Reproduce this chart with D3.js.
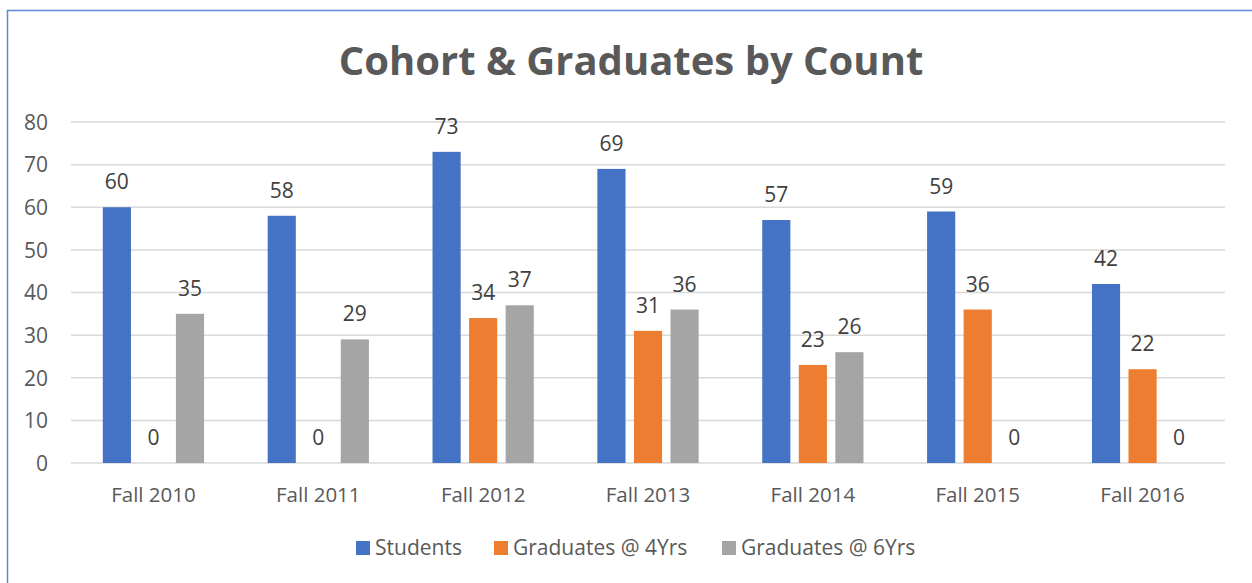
<!DOCTYPE html>
<html>
<head>
<meta charset="utf-8">
<script src="https://cdn.jsdelivr.net/npm/d3@7"></script>
<style>
  body { margin: 0; background: #fff; }
  text { font-family: "Open Sans", "Noto Sans", sans-serif; }
</style>
</head>
<body>
<div id="chart"></div>
<script>
// chart data
const categories = ["Fall 2010", "Fall 2011", "Fall 2012", "Fall 2013", "Fall 2014", "Fall 2015", "Fall 2016"];
const seriesNames = ["Students", "Graduates @ 4Yrs", "Graduates @ 6Yrs"];
const students = [60, 58, 73, 69, 57, 59, 42];
const grads4 = [0, 0, 34, 31, 23, 36, 22];
const grads6 = [35, 29, 37, 36, 26, 0, 0];
const yTicks = [0, 10, 20, 30, 40, 50, 60, 70, 80];
const colours = ["#4472C4", "#ED7D31", "#A5A5A5"];

const width = 1252, height = 583;
const margin = {left: 71, right: 27, top: 122, bottom: 120};

const svg = d3.select("#chart")
  .append("svg")
  .attr("width", width)
  .attr("height", height);

// outer chart frame (runs past the right and bottom edge of the picture)
svg.append("rect")
  .attr("x", 7.5).attr("y", 10.5)
  .attr("width", width + 20).attr("height", height + 20)
  .attr("fill", "none")
  .attr("stroke", "#5B8BD6")
  .attr("stroke-width", 1.5);

svg.append("text")
  .attr("x", 631).attr("y", 75)
  .attr("text-anchor", "middle")
  .style("font-size", "40px")
  .style("font-weight", "bold")
  .attr("fill", "#595959")
  .text("Cohort & Graduates by Count");

const x = d3.scaleBand()
  .domain(categories)
  .range([margin.left, width - margin.right])
  .paddingInner(0).paddingOuter(0);

const y = d3.scaleLinear()
  .domain([0, 80])
  .range([height - margin.bottom, margin.top]);

// bars inside each category: slot width 36.5, bar width 28
const x1 = d3.scaleBand()
  .domain(seriesNames)
  .range([0, x.bandwidth()])
  .paddingOuter(0.87)
  .paddingInner(0.23);

// gridlines
svg.append("g")
  .selectAll("line")
  .data(yTicks)
  .enter()
  .append("line")
  .attr("x1", margin.left).attr("x2", width - margin.right)
  .attr("y1", d => y(d)).attr("y2", d => y(d))
  .attr("stroke", "#D9D9D9")
  .attr("stroke-width", 1.5);

// y axis labels
const yAxis = d3.axisLeft(y).tickValues(yTicks).tickSize(0).tickPadding(0);
const yg = svg.append("g")
  .attr("transform", "translate(48,0)")
  .call(yAxis);
yg.select(".domain").remove();
yg.selectAll("text")
  .attr("fill", "#595959")
  .style("font-size", "21px")
  .style("font-family", "'Open Sans', sans-serif")
  .attr("dy", "0.35em");

// x axis labels
const xAxis = d3.axisBottom(x).tickSize(0).tickPadding(0);
const xg = svg.append("g")
  .attr("transform", "translate(0," + (height - margin.bottom) + ")")
  .call(xAxis);
xg.select(".domain").remove();
xg.selectAll("text")
  .attr("fill", "#595959")
  .style("font-size", "20.5px")
  .style("font-family", "'Open Sans', sans-serif")
  .attr("y", 39)
  .attr("dy", 0);

const series = [students, grads4, grads6];
const rows = [];
categories.forEach((c, i) => {
  series.forEach((s, j) => {
    rows.push({cat: c, name: seriesNames[j], value: s[i], colour: colours[j]});
  });
});

svg.append("g")
  .selectAll("rect")
  .data(rows)
  .enter()
  .append("rect")
  .attr("x", d => x(d.cat) + x1(d.name))
  .attr("y", d => y(d.value))
  .attr("width", x1.bandwidth())
  .attr("height", d => y(0) - y(d.value))
  .attr("fill", d => d.colour);

// value labels
svg.append("g")
  .selectAll("text")
  .data(rows)
  .enter()
  .append("text")
  .attr("x", d => x(d.cat) + x1(d.name) + x1.bandwidth() / 2)
  .attr("y", d => y(d.value) - 18)
  .attr("text-anchor", "middle")
  .attr("fill", "#404040")
  .style("font-size", "21px")
  .text(d => d.value);

// legend
const legendX = [356, 494, 722];
const legend = svg.append("g")
  .selectAll("g")
  .data(seriesNames)
  .enter()
  .append("g")
  .attr("transform", (d, i) => "translate(" + legendX[i] + ",541)");
legend.append("rect")
  .attr("width", 14).attr("height", 14)
  .attr("fill", (d, i) => colours[i]);
legend.append("text")
  .attr("x", 19).attr("y", 14)
  .attr("fill", "#595959")
  .style("font-size", "21px")
  .text(d => d);
</script>
</body>
</html>
